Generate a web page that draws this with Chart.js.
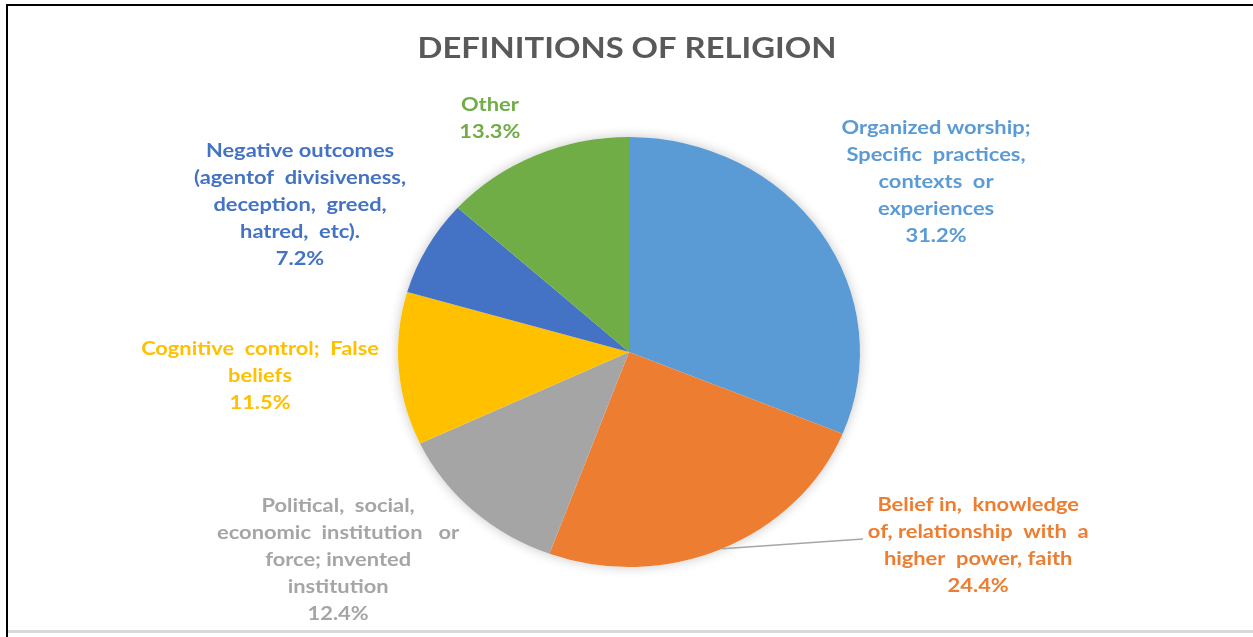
<!DOCTYPE html>
<html>
<head>
<meta charset="utf-8">
<script src="https://cdn.jsdelivr.net/npm/chart.js@4"></script>
<style>
  html, body { margin: 0; padding: 0; background: #fff; }
  body { width: 1253px; height: 637px; position: relative; overflow: hidden; }
  #frameTop { position: absolute; left: 6px; top: 4px; width: 1247px; height: 0; border-top: 2px solid #000; }
  #frameLeft { position: absolute; left: 6px; top: 4px; width: 0; height: 633px; border-left: 2px solid #000; }
  #frameBottom { position: absolute; left: 8px; top: 630px; width: 1245px; height: 0; border-top: 3px solid #d9d9d9; }
  #wrap { position: absolute; left: 0; top: 0; width: 1253px; height: 637px; }
</style>
</head>
<body>
<div id="frameTop"></div>
<div id="frameLeft"></div>
<div id="frameBottom"></div>
<div id="wrap"><canvas id="pieChart"></canvas></div>
<script>
// data
var categories = [
  'Organized worship; Specific practices, contexts or experiences',
  'Belief in, knowledge of, relationship with a higher power, faith',
  'Political, social, economic institution or force; invented institution',
  'Cognitive control; False beliefs',
  'Negative outcomes (agentof divisiveness, deception, greed, hatred, etc).',
  'Other'
];
var percents = [31.2, 24.4, 12.4, 11.5, 7.2, 13.3];

// how each label is broken into lines
var labelLines = [
  ['Organized worship;', 'Specific  practices,', 'contexts  or', 'experiences'],
  ['Belief in,  knowledge', 'of, relationship  with  a', 'higher  power, faith'],
  ['Political,  social,', 'economic  institution   or', 'force; invented', 'institution'],
  ['Cognitive  control;  False', 'beliefs'],
  ['Negative outcomes', '(agentof  divisiveness,', 'deception,  greed,', 'hatred,  etc).'],
  ['Other']
];

var colors = ['#5B9BD5', '#ED7D31', '#A5A5A5', '#FFC000', '#4472C4', '#70AD47'];
var textColors = ['#5B9BD5', '#ED7D31', '#A5A5A5', '#FFC000', '#4472C4', '#70AD47'];

// label centres, in units of the pie radius from the pie centre
var labelPos = [[1.428, -0.791], [1.624, 0.898], [-1.353, 0.967], [-1.716, 0.112], [-1.530, -0.684], [-0.647, -1.088]];
// leader line end for the orange slice (radius units)
var leaderEnd = { 1: [1.088, 0.870] };
var stretchX = 1.0744; // the pie in the picture is a little wider than tall
var textStretch = 1.15; // text in the picture is wide too

var fontFamily = 'Lato, "Open Sans", sans-serif';

function pieGeom(chart) {
  var arc = chart.getDatasetMeta(0).data[0];
  return { x: arc.x, y: arc.y, r: arc.outerRadius };
}

function wideText(ctx, t, x, y, sx) {
  ctx.save();
  ctx.translate(x, y);
  ctx.scale(sx, 1);
  ctx.fillText(t, 0, 0);
  ctx.restore();
}

var stretchPlugin = {
  id: 'stretch',
  beforeDatasetsDraw: function(chart) {
    var g = pieGeom(chart);
    var ctx = chart.ctx;
    ctx.save();
    ctx.translate(g.x, g.y);
    ctx.scale(stretchX, 1);
    ctx.translate(-g.x, -g.y);
    // soft glow under the pie
    ctx.save();
    ctx.beginPath();
    ctx.arc(g.x, g.y, g.r, 0, Math.PI * 2);
    ctx.shadowColor = 'rgba(0,0,0,0.22)';
    ctx.shadowBlur = 12;
    ctx.fillStyle = '#ffffff';
    ctx.fill();
    ctx.restore();
  },
  afterDatasetsDraw: function(chart) {
    chart.ctx.restore();
  }
};

var labelPlugin = {
  id: 'labels',
  afterDraw: function(chart) {
    var ctx = chart.ctx;
    var g = pieGeom(chart);
    var meta = chart.getDatasetMeta(0);

    // title
    ctx.save();
    ctx.fillStyle = '#595959';
    ctx.font = 'bold 29px ' + fontFamily;
    ctx.textAlign = 'center';
    ctx.textBaseline = 'middle';
    wideText(ctx, 'DEFINITIONS OF RELIGION', 627, 49, 1.13);
    ctx.restore();

    meta.data.forEach(function(arc, i) {
      var lines = labelLines[i].concat([percents[i].toFixed(1) + '%']);
      var cx = g.x + labelPos[i][0] * g.r;
      var cy = g.y + labelPos[i][1] * g.r;
      var lh = 27;
      var y0 = cy - (lines.length - 1) * lh / 2;

      if (leaderEnd[i]) {
        var mid = (arc.startAngle + arc.endAngle) / 2;
        ctx.save();
        ctx.strokeStyle = '#a6a6a6';
        ctx.lineWidth = 1.5;
        ctx.beginPath();
        ctx.moveTo(g.x + Math.cos(mid) * g.r * stretchX, g.y + Math.sin(mid) * g.r);
        ctx.lineTo(g.x + leaderEnd[i][0] * g.r, g.y + leaderEnd[i][1] * g.r);
        ctx.stroke();
        ctx.restore();
      }

      ctx.save();
      ctx.fillStyle = textColors[i];
      ctx.font = 'bold 19px ' + fontFamily;
      ctx.textAlign = 'center';
      ctx.textBaseline = 'middle';
      lines.forEach(function(t, k) {
        wideText(ctx, t, cx, y0 + k * lh, textStretch);
      });
      ctx.restore();
    });
  }
};

var ctx = document.getElementById('pieChart').getContext('2d');
var myChart = new Chart(ctx, {
  type: 'pie',
  data: {
    labels: categories,
    datasets: [{
      data: percents,
      backgroundColor: colors,
      borderWidth: 0
    }]
  },
  options: {
    responsive: true,
    maintainAspectRatio: false,
    animation: false,
    layout: { padding: { left: 300, right: 295, top: 137, bottom: 70 } },
    plugins: {
      legend: { display: false },
      tooltip: { enabled: false },
      title: { display: false }
    }
  },
  plugins: [stretchPlugin, labelPlugin]
});
</script>
</body>
</html>
